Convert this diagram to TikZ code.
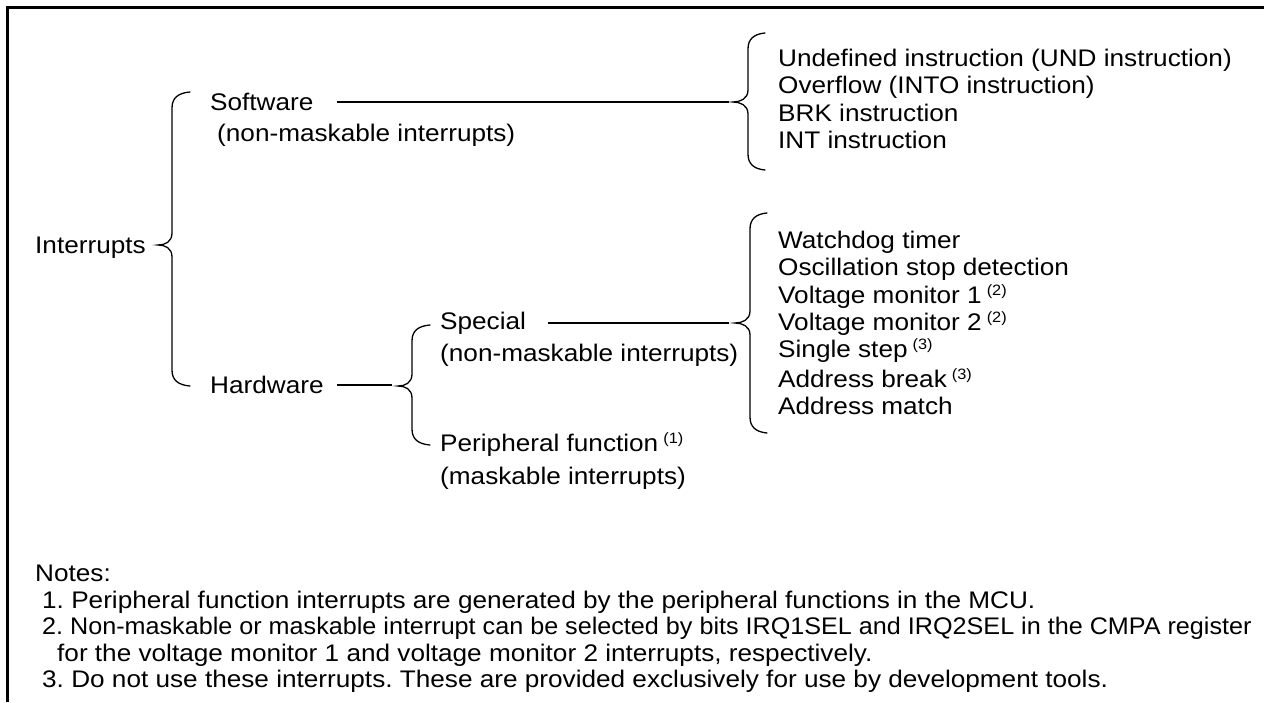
\documentclass[tikz,border=0pt]{standalone}
\usepackage{fontspec}
\setmainfont[FakeStretch=1.09]{Liberation Sans}
\frenchspacing
\newcommand\supnote[1]{\hspace{5pt}\raisebox{8pt}{\fontsize{15}{15}\selectfont(#1)}}
\newcommand\curlybr[6]{% tip x, tip y, vertical x, top y, bottom y, hook x
  \draw[bracestyle] (#6,#4) .. controls (#3+6,#4+1) and (#3,#4+6) .. (#3,#4+16)
    -- (#3,#2-12) .. controls (#3,#2-3) and (#1+7,#2) .. (#1,#2)
    .. controls (#1+7,#2) and (#3,#2+3) .. (#3,#2+12)
    -- (#3,#5-16) .. controls (#3,#5-6) and (#3+6,#5-1) .. (#6,#5);}
\tikzset{
  bracestyle/.style={line width=1.3pt, line cap=round},
  conn/.style={line width=1.3pt},
  lbl/.style={anchor=west, inner sep=0pt, font=\fontsize{24}{27}\selectfont},
  frame/.style={line width=3pt},
}
\begin{document}
\begin{tikzpicture}[x=1pt,y=-1pt]
\useasboundingbox (0,0) rectangle (1264,702);
% frame
\draw[frame] (1264,7) -- (7,7) -- (7,702);
% level 0
\node[lbl] (intr) at (35,248) {Interrupts};
\curlybr{158}{245}{172}{92}{386}{190}
% software
\node[lbl] (sw) at (210,102) {Software};
\node[lbl] (swn) at (217,135) {(non-maskable interrupts)};
\coordinate (swa) at (337,102);
\coordinate (swtip) at (729,102);
\draw[conn] (swa) -- (swtip);
\curlybr{733}{102}{748}{33}{170}{765}
\node[lbl] (s1) at (778,60) {Undefined instruction (UND instruction)};
\node[lbl] (s2) at (778,87) {Overflow (INTO instruction)};
\node[lbl] (s3) at (778,113) {BRK instruction};
\node[lbl] (s4) at (778,140) {INT instruction};
% hardware
\node[lbl] (hw) at (210,385) {Hardware};
\coordinate (hwa) at (337,385);
\coordinate (hwtip) at (392,385);
\draw[conn] (hwa) -- (hwtip);
\curlybr{398}{386}{412}{325}{445}{430}
\node[lbl] (sp) at (440,323) {Special};
\node[lbl] (spn) at (440,355) {(non-maskable interrupts)};
\coordinate (spa) at (548,323);
\coordinate (sptip) at (729,323);
\draw[conn] (spa) -- (sptip);
\node[lbl] (pf) at (440,445) {Peripheral function\supnote{1}};
\node[lbl] (pfn) at (440,478) {(maskable interrupts)};
\curlybr{735}{323}{750}{213}{433}{767}
\node[lbl] (h1) at (778,242) {Watchdog timer};
\node[lbl] (h2) at (778,269) {Oscillation stop detection};
\node[lbl] (h3) at (778,297) {Voltage monitor 1\supnote{2}};
\node[lbl] (h4) at (778,324) {Voltage monitor 2\supnote{2}};
\node[lbl] (h5) at (778,351) {Single step\supnote{3}};
\node[lbl] (h6) at (778,378) {Address break\supnote{3}};
\node[lbl] (h7) at (778,406) {Address match};
% notes
\node[lbl] (nt) at (35,573) {Notes:};
\node[lbl] (n1) at (42,602) {1. Peripheral function interrupts are generated by the peripheral functions in the MCU.};
\node[lbl] (n2) at (42,628) {\scalebox{0.962}[1]{2. Non-maskable or maskable interrupt can be selected by bits IRQ1SEL and IRQ2SEL in the CMPA register}};
\node[lbl] (n2b) at (57,655) {for the voltage monitor 1 and voltage monitor 2 interrupts, respectively.};
\node[lbl] (n3) at (42,681) {3. Do not use these interrupts. These are provided exclusively for use by development tools.};
\end{tikzpicture}
\end{document}
